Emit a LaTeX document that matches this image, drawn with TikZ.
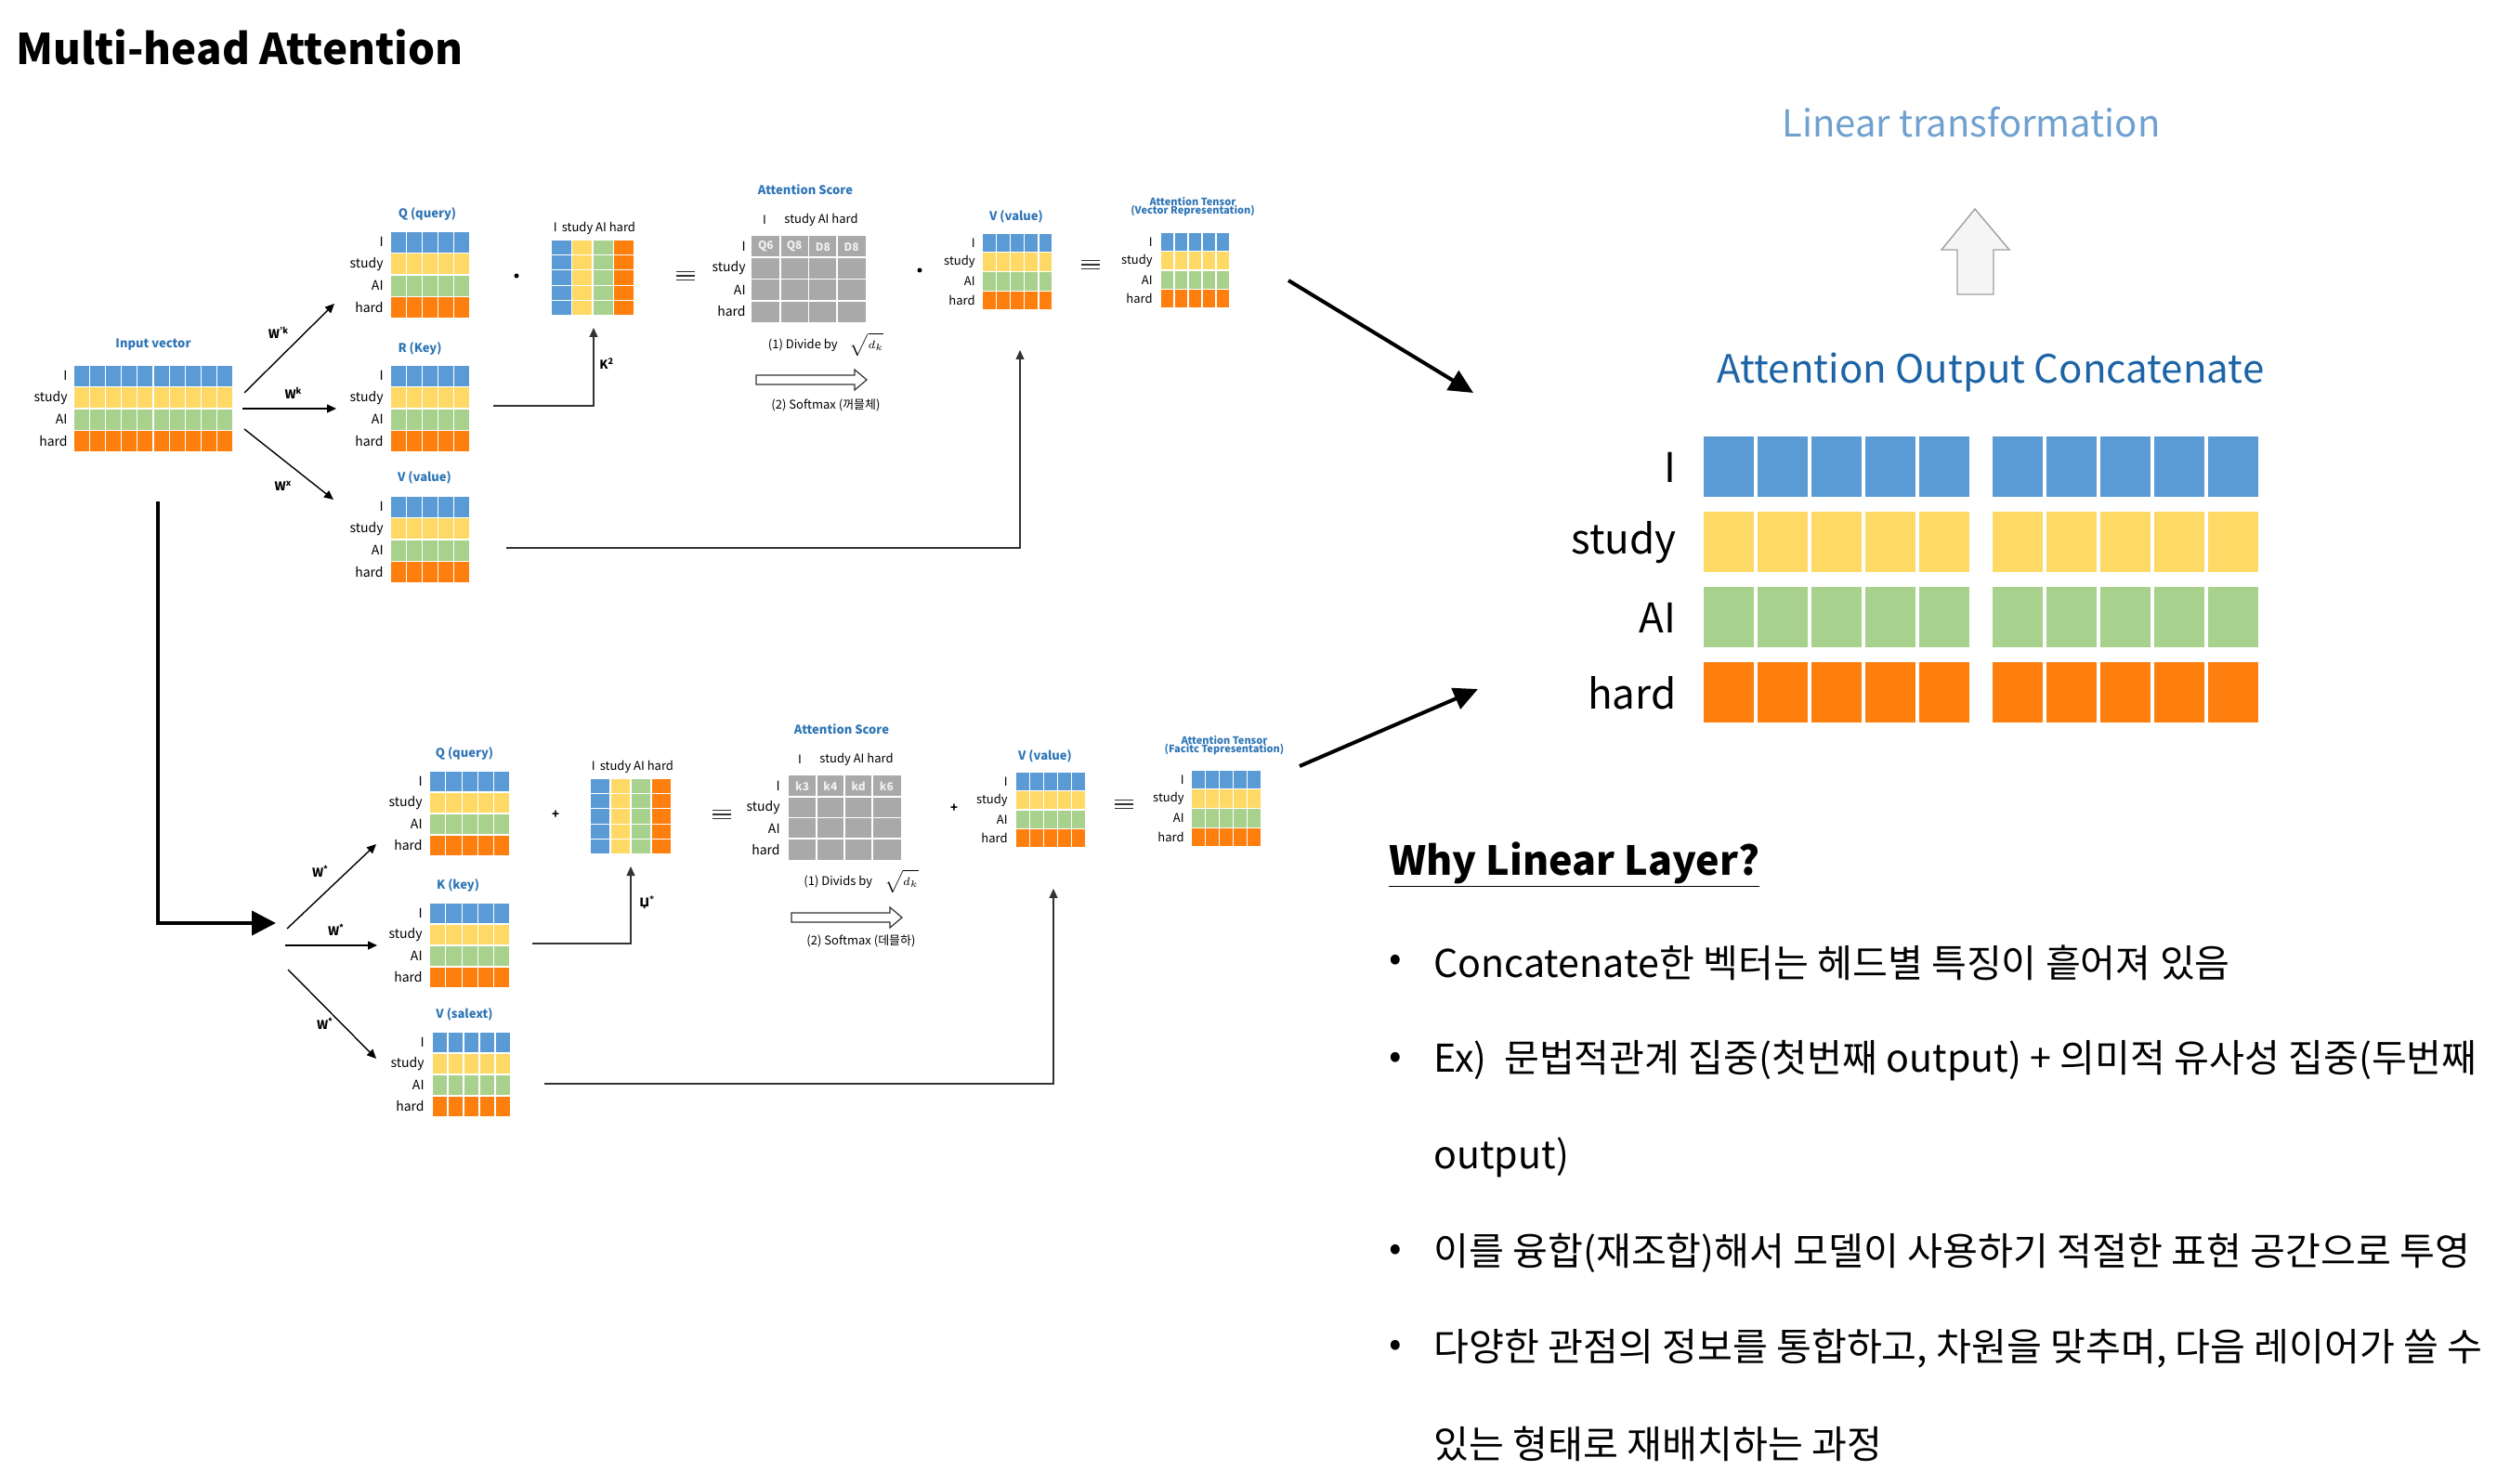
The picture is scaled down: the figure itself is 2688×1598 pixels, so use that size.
\documentclass[tikz,border=0pt]{standalone}
\usepackage{fontspec}
\setmainfont{Noto Sans CJK KR}
\newfontfamily\dejavu{DejaVu Sans}
\usetikzlibrary{arrows.meta,calc}
\definecolor{cb}{HTML}{5B9BD5}
\definecolor{cy}{HTML}{FFD966}
\definecolor{cg}{HTML}{A9D18E}
\definecolor{co}{HTML}{FF7F0E}
\definecolor{sg}{HTML}{A9A9A9}
\definecolor{lblue}{HTML}{2E75B6}
\definecolor{ltblue}{HTML}{6FA0D0}
\definecolor{dkblue}{HTML}{1D64A6}
\definecolor{lnk}{HTML}{333333}
\newcommand{\fs}[1]{\fontsize{#1}{#1}\selectfont}
\tikzset{
  rowlab/.style={anchor=east, inner sep=0pt, font=\fs{7}},
  smalltitle/.style={inner sep=0pt, text=lblue, font=\bfseries\fs{6.5}, align=center},
  plainlab/.style={inner sep=0pt, font=\fs{6.5}},
  wlab/.style={inner sep=0pt, font=\bfseries\fs{6.5}},
  thinarrow/.style={line width=0.7pt, -{Triangle[length=5pt,width=4.5pt]}},
  linkarrow/.style={draw=lnk, line width=0.6pt, -{Triangle[length=5pt,width=4.5pt]}},
  bigarrow/.style={line width=2pt, -{Triangle[length=13pt,width=12pt]}},
  body/.style={anchor=west, inner sep=0pt, font=\fs{20.6}},
  bul/.style={anchor=center, inner sep=0pt, font=\fs{20}},
}
% word-row matrix: #1 x0, #2 y0, #3 cell w, #4 cell h, #5 ncols
\newcommand{\wmat}[5]{%
  \foreach \r/\cc in {0/cb,1/cy,2/cg,3/co}{%
    \foreach \k in {1,...,#5}{%
      \fill[\cc, draw=white, line width=0.6pt] ({#1+(\k-1)*#3},{#2+\r*#4}) rectangle ({#1+\k*#3},{#2+(\r+1)*#4});
    }%
  }%
}
% row labels: #1 name, #2 x right, #3 y0, #4 cell h, #5 font size
\newcommand{\rlabs}[5]{%
  \foreach \r/\t in {0/I,1/study,2/AI,3/hard}{%
    \node[rowlab, font=\fs{#5}] (#1-\t) at (#2,{#3+(\r+0.5)*#4}) {\t};
  }%
}
% transposed key matrix: #1 x0, #2 y0, #3 cw, #4 ch
\newcommand{\tmat}[4]{%
  \foreach \k/\cc in {0/cb,1/cy,2/cg,3/co}{%
    \foreach \r in {0,...,4}{%
      \fill[\cc, draw=white, line width=0.6pt] ({#1+\k*#3},{#2+\r*#4}) rectangle ({#1+(\k+1)*#3},{#2+(\r+1)*#4});
    }%
  }%
}
% score matrix: #1 name, #2 x0, #3 y0, #4 cw, #5 ch, #6..#9 first-row texts
\newcommand{\smat}[9]{%
  \fill[sg] (#2,#3) rectangle ({#2+4*#4},{#3+4*#5});
  \foreach \i in {1,2,3}{%
    \draw[white, line width=0.8pt] ({#2+\i*#4},#3) -- ({#2+\i*#4},{#3+4*#5});
    \draw[white, line width=0.8pt] (#2,{#3+\i*#5}) -- ({#2+4*#4},{#3+\i*#5});
  }%
  \node[inner sep=0pt, text=white!88!gray, font=\bfseries\fs{6}] (#1-c1) at ({#2+0.5*#4},{#3+0.5*#5}) {#6};
  \node[inner sep=0pt, text=white!88!gray, font=\bfseries\fs{6}] (#1-c2) at ({#2+1.5*#4},{#3+0.5*#5}) {#7};
  \node[inner sep=0pt, text=white!88!gray, font=\bfseries\fs{6}] (#1-c3) at ({#2+2.5*#4},{#3+0.5*#5}) {#8};
  \node[inner sep=0pt, text=white!88!gray, font=\bfseries\fs{6}] (#1-c4) at ({#2+3.5*#4},{#3+0.5*#5}) {#9};
}
\newcommand{\eqsym}[2]{%
  \foreach \d in {-4.5,0,4.5}{\draw[lnk, line width=0.6pt] ({#1-10},{#2+\d}) -- ({#1+10},{#2+\d});}%
}
\newcommand{\hollowright}[3]{%
  \draw[line width=0.6pt, draw=lnk, fill=white] (#1,{#3-5}) -- ({#2-13},{#3-5}) -- ({#2-13},{#3-11}) -- (#2,#3) -- ({#2-13},{#3+11}) -- ({#2-13},{#3+5}) -- (#1,{#3+5}) -- cycle;
}
\begin{document}
\begin{tikzpicture}[x=0.5pt,y=-0.5pt]
\useasboundingbox[fill=white] (0,0) rectangle (2688,1598);

% title
\node[anchor=west, inner sep=0pt, font=\bfseries\fs{22.8}] (title) at (17,51) {Multi-head Attention};

% ===== head 1 =====
\node[smalltitle] (inlab) at (165,371) {Input vector};
\wmat{79}{393}{17.2}{23.5}{10}
\rlabs{in}{73}{393}{23.5}{7}

\node[smalltitle] (q1lab) at (460,230) {Q (query)};
\wmat{420}{249}{17.2}{23.5}{5}
\rlabs{q1}{413}{249}{23.5}{7}
\node[smalltitle] (k1lab) at (452,375) {R (Key)};
\wmat{420}{393}{17.2}{23.5}{5}
\rlabs{k1}{413}{393}{23.5}{7}
\node[smalltitle] (v1lab) at (457,514) {V (value)};
\wmat{420}{534}{17.2}{23.5}{5}
\rlabs{v1}{413}{534}{23.5}{7}

\coordinate (a1s) at (263,423); \coordinate (a1e) at (360,327);
\coordinate (a2s) at (261,440); \coordinate (a2e) at (362,440);
\coordinate (a3s) at (263,462); \coordinate (a3e) at (359,538);
\draw[thinarrow] (a1s) -- (a1e);
\draw[thinarrow] (a2s) -- (a2e);
\draw[thinarrow] (a3s) -- (a3e);
\node[wlab] (w1) at (300,358) {W\textsuperscript{'k}};
\node[wlab] (w2) at (316,423) {W\textsuperscript{k}};
\node[wlab] (w3) at (305,523) {W\textsuperscript{x}};

\fill (556,297) circle (2.5);
\node[plainlab] (kt1h) at (640,246) {I\, study AI hard};
\tmat{593}{258}{22.5}{16.4}
\coordinate (kt1b) at (639,353);
\coordinate (k1out) at (531,437);
\draw[linkarrow] (k1out) -| (kt1b);
\node[wlab, anchor=west] (kt1l) at (645,392) {K\textsuperscript{2}};
\eqsym{738}{297}

\node[smalltitle] (s1lab) at (867,204) {Attention Score};
\node[plainlab] (s1hI) at (823,237) {I};
\node[plainlab] (s1h) at (884,237) {study AI hard};
\smat{s1}{809}{254}{30.75}{23.25}{Q6}{Q8}{D8}{D8}
\rlabs{s1r}{803}{254}{23.25}{7}
\node[plainlab] (div1) at (889,371) {(1) Divide by\quad $\sqrt{d_k}$};
\hollowright{814}{933}{409}
\node[plainlab] (sm1) at (889,436) {(2) Softmax (꺼믈체)};

\fill (990,291) circle (2.5);
\node[smalltitle] (vv1lab) at (1094,233) {V (value)};
\wmat{1057.5}{251}{15.1}{20.75}{5}
\rlabs{vv1}{1050}{251}{20.75}{6.5}
\eqsym{1174}{285}
\node[smalltitle, font=\bfseries\fs{5.5}] (at1lab) at (1284,223) {Attention Tensor\\[-1pt](Vector Representation)};
\wmat{1249}{250}{15}{20.5}{5}
\rlabs{at1}{1241}{250}{20.5}{6.5}
\coordinate (v1out) at (545,590);
\coordinate (vv1b) at (1098,377);
\draw[linkarrow] (v1out) -| (vv1b);

% thick L arrow
\coordinate (ls) at (170,540);
\coordinate (le) at (297,994);
\draw[line width=2pt, -{Triangle[length=13pt,width=13pt]}] (ls) |- (le);

% ===== head 2 =====
\coordinate (b1s) at (309,1000); \coordinate (b1e) at (405,909);
\coordinate (b2s) at (307,1018); \coordinate (b2e) at (406,1018);
\coordinate (b3s) at (310,1044); \coordinate (b3e) at (405,1140);
\draw[thinarrow] (b1s) -- (b1e);
\draw[thinarrow] (b2s) -- (b2e);
\draw[thinarrow] (b3s) -- (b3e);
\node[wlab] (x1) at (345,938) {W\textsuperscript{*}};
\node[wlab] (x2) at (362,1001) {W\textsuperscript{*}};
\node[wlab] (x3) at (350,1102) {W\textsuperscript{*}};

\node[smalltitle] (q2lab) at (500,811) {Q (query)};
\wmat{462.5}{830}{17.3}{23}{5}
\rlabs{q2}{455}{830}{23}{7}
\node[smalltitle] (k2lab) at (493,953) {K (key)};
\wmat{462.5}{972}{17.3}{23}{5}
\rlabs{k2}{455}{972}{23}{7}
\node[smalltitle] (v2lab) at (500,1092) {V (salext)};
\wmat{465}{1111}{17}{23}{5}
\rlabs{v2}{457}{1111}{23}{7}

\node[wlab] (plus1) at (598,877) {+};
\node[plainlab] (kt2h) at (681,826) {I\, study AI hard};
\tmat{635}{838}{22}{16.4}
\coordinate (k2out) at (573,1016);
\coordinate (kt2b) at (679,933);
\draw[linkarrow] (k2out) -| (kt2b);
\node[wlab, anchor=west, font=\dejavu\bfseries\fs{6.5}] (kt2l) at (688,972) {Џ\textsuperscript{*}};
\eqsym{777}{877}

\node[smalltitle] (s2lab) at (906,785) {Attention Score};
\node[plainlab] (s2hI) at (861,818) {I};
\node[plainlab] (s2h) at (922,818) {study AI hard};
\smat{s2}{848.5}{835}{30.25}{22.75}{k3}{k4}{kd}{k6}
\rlabs{s2r}{840}{835}{22.75}{7}
\node[plainlab] (div2) at (927,949) {(1) Divids by\quad $\sqrt{d_k}$};
\hollowright{852}{971}{988}
\node[plainlab] (sm2) at (927,1013) {(2) Softmax (데믈하)};

\node[wlab] (plus2) at (1027,870) {+};
\node[smalltitle] (vv2lab) at (1125,814) {V (value)};
\wmat{1093}{831}{15.2}{20.5}{5}
\rlabs{vv2}{1085}{831}{20.5}{6.5}
\eqsym{1210}{866}
\node[smalltitle, font=\bfseries\fs{5.5}] (at2lab) at (1318,803) {Attention Tensor\\[-1pt](Facitc Tepresentation)};
\wmat{1282}{829}{15.2}{20.75}{5}
\rlabs{at2}{1275}{829}{20.75}{6.5}
\coordinate (v2out) at (586,1167);
\coordinate (vv2b) at (1134,957);
\draw[linkarrow] (v2out) -| (vv2b);

% big arrows to concat
\coordinate (t1s) at (1387,302); \coordinate (t1e) at (1586,423);
\coordinate (t2s) at (1399,825); \coordinate (t2e) at (1591,742);
\draw[bigarrow] (t1s) -- (t1e);
\draw[bigarrow] (t2s) -- (t2e);

% ===== right side =====
\node[inner sep=0pt, text=ltblue, font=\fs{20}] (lt) at (2122,132) {Linear transformation};
\draw[draw=gray!75, fill=gray!8, line width=0.7pt] (2107,317) -- (2107,269) -- (2090,269) -- (2126,225) -- (2163,269) -- (2146,269) -- (2146,317) -- cycle;
\node[inner sep=0pt, text=dkblue, font=\fs{21}] (aoc) at (2143,401) {Attention Output Concatenate};

\foreach \r/\cc in {0/cb,1/cy,2/cg,3/co}{%
  \foreach \b in {1832,2143}{%
    \foreach \k in {0,...,4}{%
      \fill[\cc, draw=white, line width=2pt] ({\b+\k*58},{468+\r*81}) rectangle ({\b+(\k+1)*58},{537+\r*81});
    }%
  }%
}
\rlabs{big}{1805}{462.5}{81}{22}

\node[anchor=west, inner sep=0pt, font=\bfseries\fs{21.5}] (why) at (1495,931) {\underline{Why Linear Layer?}};
\node[bul] (b1) at (1502,1037) {•};
\node[body] (l1) at (1543,1037) {Concatenate한 벡터는 헤드별 특징이 흩어져 있음};
\node[bul] (b2) at (1502,1142) {•};
\node[body] (l2) at (1543,1142) {Ex)\ \ 문법적관계 집중(첫번째 output) + 의미적 유사성 집중(두번째};
\node[body] (l3) at (1543,1246) {output)};
\node[bul] (b4) at (1502,1349) {•};
\node[body] (l4) at (1543,1349) {이를 융합(재조합)해서 모델이 사용하기 적절한 표현 공간으로 투영};
\node[bul] (b5) at (1502,1452) {•};
\node[body] (l5) at (1543,1452) {다양한 관점의 정보를 통합하고, 차원을 맞추며, 다음 레이어가 쓸 수};
\node[body] (l6) at (1543,1555) {있는 형태로 재배치하는 과정};
\end{tikzpicture}
\end{document}
